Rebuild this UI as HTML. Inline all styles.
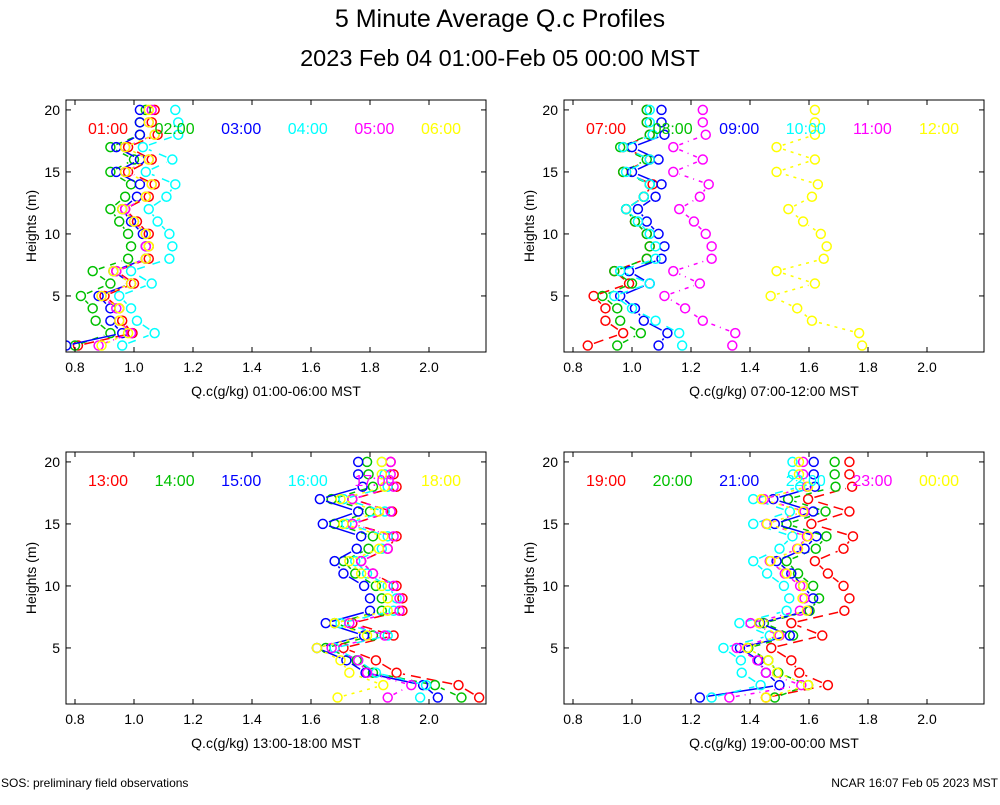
<!DOCTYPE html>
<html><head><meta charset="utf-8"><style>
body{margin:0;background:#fff;font-family:"Liberation Sans",sans-serif}
</style></head><body>
<svg id="c" width="1000" height="800" xmlns="http://www.w3.org/2000/svg" font-family="Liberation Sans, sans-serif">
<text x="500" y="27" font-size="25" text-anchor="middle">5 Minute Average Q.c Profiles</text>
<text x="500" y="66" font-size="23.5" text-anchor="middle">2023 Feb 04 01:00-Feb 05 00:00 MST</text>
<text x="1" y="787" font-size="12">SOS: preliminary field observations</text>
<text x="998" y="787" font-size="12" text-anchor="end">NCAR 16:07 Feb 05 2023 MST</text>
</svg>
<script>
const heights=[1,2,3,4,5,6,7,8,9,10,11,12,13,14,15,16,17,18,19,20];
const xTicks=[0.8,1.0,1.2,1.4,1.6,1.8,2.0];
const yTicks=[5,10,15,20];
const colors=["#ff0000","#00c000","#0000ff","#00ffff","#ff00ff","#ffff00"];
const dashes=["10,6","6,6","","8,8","4,5,1,5","3,5"];
const p1Labels=["01:00","02:00","03:00","04:00","05:00","06:00"];
const p1Red=[0.81,0.995,0.96,0.95,0.90,1.0,0.94,1.05,1.05,1.05,1.01,0.97,1.05,1.07,0.98,1.06,0.98,1.08,1.06,1.07];
const p1Green=[0.80,0.92,0.87,0.86,0.82,0.92,0.86,0.98,0.99,0.98,0.95,0.92,0.97,0.99,0.92,1.0,0.92,1.02,1.02,1.04];
const p1Blue=[0.77,0.96,0.92,0.92,0.88,0.99,0.93,1.04,1.04,1.03,0.99,0.96,1.01,1.02,0.94,1.02,0.94,1.02,1.02,1.02];
const p1Cyan=[0.96,1.07,1.01,0.99,0.95,1.06,0.99,1.12,1.13,1.12,1.08,1.05,1.11,1.14,1.04,1.13,1.03,1.15,1.15,1.14];
const p1Magenta=[0.88,0.99,0.95,0.94,0.89,0.99,0.94,1.04,1.04,1.04,1.0,0.97,1.04,1.06,0.97,1.05,0.97,1.07,1.05,1.06];
const p1Yellow=[0.89,0.98,0.95,0.95,0.89,0.99,0.93,1.04,1.05,1.04,1.0,0.96,1.04,1.06,0.97,1.05,0.97,1.07,1.05,1.05];
const p2Labels=["07:00","08:00","09:00","10:00","11:00","12:00"];
const p2Red=[0.85,0.97,0.91,0.91,0.87,0.99,0.94,1.05,1.06,1.05,1.01,0.98,1.04,1.07,0.97,1.06,0.97,1.06,1.05,1.05];
const p2Green=[0.95,1.03,0.96,0.95,0.90,1.0,0.94,1.05,1.06,1.05,1.01,0.98,1.04,1.06,0.97,1.05,0.96,1.06,1.05,1.05];
const p2Blue=[1.09,1.12,1.04,1.01,0.96,1.06,0.99,1.10,1.11,1.09,1.05,1.02,1.08,1.10,1.0,1.09,1.0,1.11,1.10,1.10];
const p2Cyan=[1.17,1.16,1.08,1.0,0.94,1.06,0.96,1.08,1.08,1.06,1.02,0.98,1.04,1.06,0.98,1.06,0.97,1.07,1.06,1.06];
const p2Magenta=[1.34,1.35,1.24,1.18,1.11,1.23,1.14,1.27,1.27,1.25,1.21,1.16,1.23,1.26,1.14,1.24,1.14,1.25,1.24,1.24];
const p2Yellow=[1.78,1.77,1.61,1.56,1.47,1.62,1.49,1.65,1.66,1.64,1.58,1.53,1.61,1.63,1.49,1.62,1.49,1.62,1.62,1.62];
const p3Labels=["13:00","14:00","15:00","16:00","17:00","18:00"];
const p3Red=[2.17,2.10,1.89,1.82,1.71,1.88,1.74,1.91,1.91,1.89,1.81,1.77,1.86,1.89,1.74,1.875,1.74,1.89,1.88,1.87];
const p3Green=[2.11,2.02,1.81,1.755,1.65,1.81,1.68,1.84,1.84,1.82,1.75,1.71,1.795,1.81,1.68,1.80,1.67,1.81,1.795,1.79];
const p3Blue=[2.03,1.98,1.785,1.72,1.62,1.78,1.65,1.80,1.80,1.78,1.71,1.68,1.755,1.77,1.64,1.76,1.63,1.775,1.76,1.76];
const p3Cyan=[1.97,1.99,1.82,1.76,1.68,1.86,1.70,1.88,1.89,1.86,1.79,1.75,1.84,1.86,1.72,1.85,1.71,1.86,1.85,1.84];
const p3Magenta=[1.86,1.94,1.79,1.76,1.67,1.85,1.73,1.90,1.90,1.88,1.81,1.77,1.86,1.88,1.74,1.87,1.74,1.88,1.87,1.87];
const p3Yellow=[1.69,1.845,1.73,1.70,1.62,1.79,1.68,1.86,1.86,1.84,1.77,1.73,1.83,1.845,1.71,1.83,1.70,1.85,1.84,1.84];
const p4Labels=["19:00","20:00","21:00","22:00","23:00","00:00"];
const p4Red=[1.454,1.664,1.567,1.54,1.472,1.645,1.54,1.72,1.737,1.717,1.664,1.62,1.717,1.749,1.608,1.737,1.597,1.746,1.737,1.737];
const p4Green=[1.484,1.597,1.496,1.462,1.394,1.546,1.447,1.602,1.634,1.614,1.563,1.524,1.623,1.659,1.524,1.656,1.529,1.69,1.687,1.687];
const p4Blue=[1.23,1.50,1.454,1.43,1.366,1.535,1.434,1.597,1.614,1.58,1.54,1.49,1.585,1.625,1.484,1.614,1.479,1.62,1.616,1.616];
const p4Cyan=[1.27,1.436,1.372,1.369,1.31,1.467,1.364,1.524,1.533,1.515,1.458,1.411,1.50,1.544,1.411,1.535,1.411,1.57,1.546,1.544];
const p4Magenta=[1.33,1.574,1.454,1.425,1.355,1.50,1.402,1.569,1.585,1.57,1.518,1.467,1.56,1.593,1.456,1.585,1.447,1.593,1.58,1.58];
const p4Yellow=[1.454,1.597,1.492,1.462,1.391,1.496,1.431,1.593,1.578,1.58,1.524,1.47,1.563,1.597,1.458,1.58,1.439,1.597,1.566,1.566];
const panels=[
 {x:66,y:100,title:"Q.c(g/kg) 01:00-06:00 MST",labels:p1Labels,series:[p1Red,p1Green,p1Blue,p1Cyan,p1Magenta,p1Yellow]},
 {x:564,y:100,title:"Q.c(g/kg) 07:00-12:00 MST",labels:p2Labels,series:[p2Red,p2Green,p2Blue,p2Cyan,p2Magenta,p2Yellow]},
 {x:66,y:452,title:"Q.c(g/kg) 13:00-18:00 MST",labels:p3Labels,series:[p3Red,p3Green,p3Blue,p3Cyan,p3Magenta,p3Yellow]},
 {x:564,y:452,title:"Q.c(g/kg) 19:00-00:00 MST",labels:p4Labels,series:[p4Red,p4Green,p4Blue,p4Cyan,p4Magenta,p4Yellow]}
];
const W=420,H=252,X0=0.7695,X1=2.1932,Y0=0.48,Y1=20.8;
const svg=document.getElementById('c');
const NS="http://www.w3.org/2000/svg";
function mk(t,a,p){const e=document.createElementNS(NS,t);for(const k in a)e.setAttribute(k,a[k]);(p||svg).appendChild(e);return e;}
panels.forEach((P,pi)=>{
 const g=mk('g',{});
 
 
 const sx=v=>P.x+(v-X0)/(X1-X0)*W;
 const sy=h=>P.y+H-(h-Y0)/(Y1-Y0)*H;
 const cp='clip'+pi;
 const cl=mk('clipPath',{id:cp},g);mk('rect',{x:P.x,y:P.y,width:W,height:H},cl);
 const data=mk('g',{'clip-path':'url(#'+cp+')'},g);
 P.series.forEach((s,si)=>{
  const sg=mk('g',{},data);
  
  
  for(let i=0;i<heights.length-1;i++){
   const x1=sx(s[i]),y1=sy(heights[i]),x2=sx(s[i+1]),y2=sy(heights[i+1]);
   const dx=x2-x1,dy=y2-y1,L=Math.hypot(dx,dy),gap=6.5;
   if(L<=2*gap+1)continue;
   const ux=dx/L,uy=dy/L;
   const seg=mk('line',{x1:x1+ux*gap,y1:y1+uy*gap,x2:x2-ux*gap,y2:y2-uy*gap,stroke:colors[si],'stroke-width':1.5,'stroke-dasharray':dashes[si]},sg);
   
   
  }
  heights.forEach((h,i)=>{
   const c=mk('circle',{cx:sx(s[i]),cy:sy(h),r:4.5,fill:'none',stroke:colors[si],'stroke-width':1.5},sg);
   
   
  });
 });
 P.labels.forEach((t,si)=>{
  const e=mk('text',{x:P.x+42+si*66.6,y:P.y+34,'font-size':16,fill:colors[si],'text-anchor':'middle'},g);
  e.textContent=t;
  
  
 });
 const fr=mk('rect',{x:P.x,y:P.y,width:W,height:H,fill:'none',stroke:'#000','stroke-width':1},g);
 
 
 xTicks.forEach(v=>{
  const x=sx(v);
  mk('line',{x1:x,x2:x,y1:P.y+H,y2:P.y+H-5,stroke:'#000'},g);
  mk('line',{x1:x,x2:x,y1:P.y,y2:P.y+5,stroke:'#000'},g);
  const t=mk('text',{x:x,y:P.y+H+20,'font-size':14,'text-anchor':'middle'},g);
  t.textContent=v.toFixed(1);
  
  
 });
 yTicks.forEach(v=>{
  const y=sy(v);
  mk('line',{x1:P.x,x2:P.x+5,y1:y,y2:y,stroke:'#000'},g);
  mk('line',{x1:P.x+W,x2:P.x+W-5,y1:y,y2:y,stroke:'#000'},g);
  const t=mk('text',{x:P.x-6,y:y+5,'font-size':14,'text-anchor':'end'},g);
  t.textContent=v;
  
  
 });
 const xt=mk('text',{x:P.x+W/2,y:P.y+H+44,'font-size':14,'text-anchor':'middle'},g);
 xt.textContent=P.title;
 
 
 const yt=mk('text',{x:0,y:0,'font-size':14,'text-anchor':'middle',transform:'translate('+(P.x-30)+','+(P.y+H/2)+') rotate(-90)'},g);
 yt.textContent='Heights (m)';
 
 
});
</script>
</body></html>
